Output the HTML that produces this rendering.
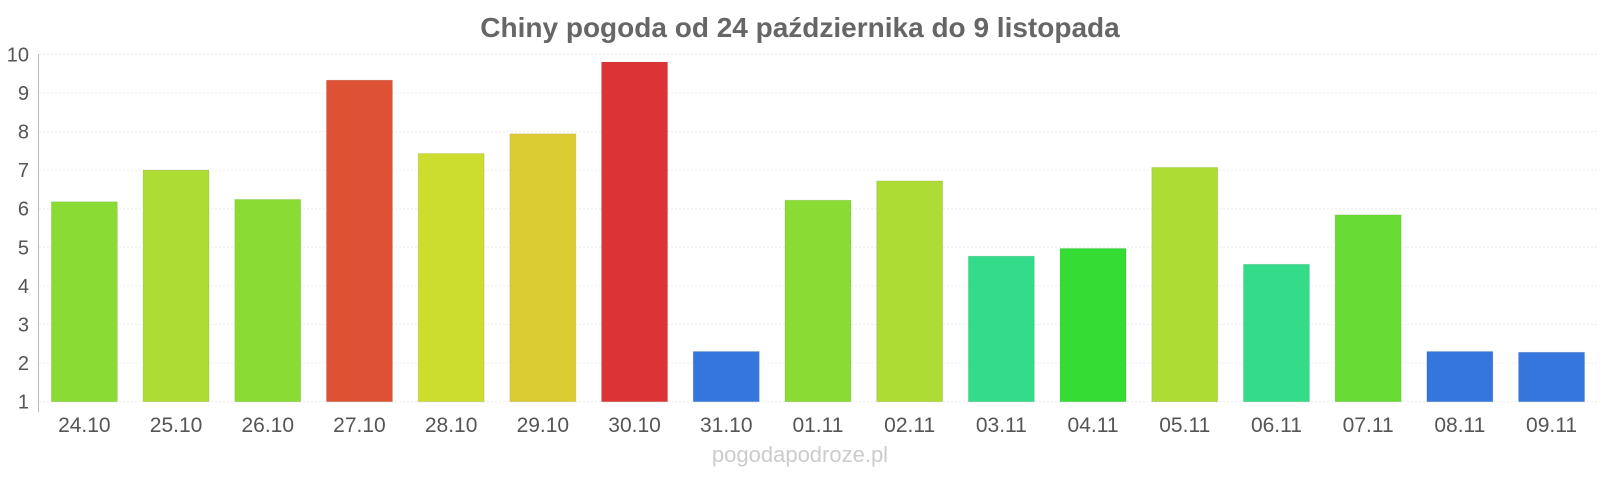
<!DOCTYPE html>
<html><head><meta charset="utf-8"><style>
body{margin:0;background:#fff;width:1600px;height:480px;overflow:hidden}
</style></head><body>
<svg width="1600" height="480" xmlns="http://www.w3.org/2000/svg" font-family="Liberation Sans, sans-serif">
<text x="800" y="37" text-anchor="middle" font-size="28" font-weight="bold" fill="#666">Chiny pogoda od 24 października do 9 listopada</text>
<g id="grid" stroke="#eee" stroke-width="1" stroke-dasharray="2,2"></g>
<g id="bars"></g>
<line x1="38.5" y1="54" x2="38.5" y2="412" stroke="#bbb"/>
<g id="yl" font-size="20" fill="#555" text-anchor="end"></g>
<g id="xl" font-size="21" fill="#555" text-anchor="middle"></g>
<text x="800" y="462" text-anchor="middle" font-size="22" fill="#ccc">pogodapodroze.pl</text>
</svg>
<script>
var ns="http://www.w3.org/2000/svg";
function el(p,t,a,txt){var e=document.createElementNS(ns,t);for(var k in a)e.setAttribute(k,a[k]);if(txt)e.textContent=txt;document.getElementById(p).appendChild(e);}
var y0=401.7,u=38.6;
for(var v=1;v<=10;v++){var y=y0-(v-1)*u;el("grid","line",{x1:39,x2:1597,y1:y,y2:y});el("yl","text",{x:29,y:y+7},String(v));}
var d=[["24.10",6.18,"#8adc34"],["25.10",7.0,"#addc34"],["26.10",6.24,"#8adc34"],["27.10",9.33,"#dd5235"],["28.10",7.43,"#cddd30"],["29.10",7.94,"#dccc34"],["30.10",9.8,"#dc3434"],["31.10",2.3,"#3476dc"],["01.11",6.22,"#8adc34"],["02.11",6.72,"#addc34"],["03.11",4.77,"#34dc8a"],["04.11",4.97,"#34dc34"],["05.11",7.07,"#addc34"],["06.11",4.56,"#34dc8a"],["07.11",5.84,"#68dc34"],["08.11",2.3,"#3476dc"],["09.11",2.28,"#3476dc"]];
var w=91.7;
d.forEach(function(b,i){var c=38.5+w*(i+0.5);var top=y0-(b[1]-1)*u;
el("bars","rect",{x:c-33,y:top,width:66,height:y0-top,fill:b[2],stroke:"rgba(0,0,0,0.08)"});
el("xl","text",{x:c,y:432},b[0]);});
</script>
</body></html>
